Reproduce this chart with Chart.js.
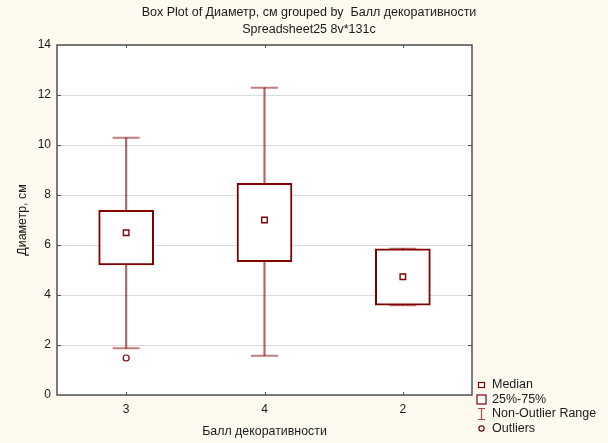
<!DOCTYPE html>
<html>
<head>
<meta charset="utf-8">
<script src="https://cdn.jsdelivr.net/npm/chart.js@4"></script>
<style>
  html, body { margin: 0; padding: 0; background: #fefaf0; }
  #wrap { width: 608px; height: 443px; }
</style>
</head>
<body>
<div id="wrap"><canvas id="c" width="608" height="443"></canvas></div>
<script>
// Box plot of diameter grouped by decorativeness score
const categories = ['3', '4', '2'];
const whiskerLow = [1.87, 1.57, 3.59];
const quartile1 = [5.2, 5.33, 3.59];
const medians = [6.49, 7.0, 4.73];
const quartile3 = [7.39, 8.47, 5.85];
const whiskerHigh = [10.29, 12.29, 5.85];
const outliers = [1.48, null, null];
const yTickMin = 0, yTickMax = 14, yTickStep = 2;
const legendLabels = ['Median', '25%-75%', 'Non-Outlier Range', 'Outliers'];

const DARK_RED = '#800000';
const SOFT_RED = 'rgba(128,0,0,0.5)';
const FONT = '"Liberation Sans", Arial, sans-serif';

const frame = {
  id: 'frame',
  beforeDraw(chart) {
    const { ctx, chartArea: a } = chart;
    ctx.save();
    ctx.fillStyle = '#fefaf0';
    ctx.fillRect(0, 0, chart.width, chart.height);
    ctx.fillStyle = '#ffffff';
    ctx.fillRect(a.left, a.top, a.right - a.left, a.bottom - a.top);
    ctx.restore();
  },
  afterDraw(chart) {
    const { ctx, chartArea: a, scales } = chart;
    ctx.save();
    // plot border
    ctx.strokeStyle = '#505050';
    ctx.lineWidth = 1.5;
    ctx.strokeRect(a.left, a.top, a.right - a.left, a.bottom - a.top);
    // short inward ticks
    ctx.lineWidth = 1;
    ctx.beginPath();
    categories.forEach((c, i) => {
      const x = Math.round(scales.x.getPixelForValue(i)) + 0.5;
      ctx.moveTo(x, a.bottom); ctx.lineTo(x, a.bottom - 3);
      ctx.moveTo(x, a.top); ctx.lineTo(x, a.top + 3);
    });
    for (let v = yTickMin + yTickStep; v < yTickMax; v += yTickStep) {
      const y = Math.round(scales.y.getPixelForValue(v)) + 0.5;
      ctx.moveTo(a.left, y); ctx.lineTo(a.left + 4, y);
      ctx.moveTo(a.right, y); ctx.lineTo(a.right - 4, y);
    }
    ctx.stroke();

    // legend
    const lx = 481.5, tx = 492;
    const rows = [385, 399.5, 414, 428.5];
    ctx.strokeStyle = DARK_RED;
    ctx.fillStyle = '#ffffff';
    ctx.lineWidth = 1.2;
    // median marker
    ctx.fillRect(lx - 3, rows[0] - 2.5, 6, 5);
    ctx.strokeRect(lx - 3, rows[0] - 2.5, 6, 5);
    // quartile box
    ctx.fillRect(lx - 4.5, rows[1] - 4.5, 9, 9);
    ctx.strokeRect(lx - 4.5, rows[1] - 4.5, 9, 9);
    // whisker range
    ctx.strokeStyle = '#a84a4a';
    ctx.beginPath();
    ctx.moveTo(lx, rows[2] - 5.5); ctx.lineTo(lx, rows[2] + 5.5);
    ctx.moveTo(lx - 3.5, rows[2] - 5.5); ctx.lineTo(lx + 3.5, rows[2] - 5.5);
    ctx.moveTo(lx - 3.5, rows[2] + 5.5); ctx.lineTo(lx + 3.5, rows[2] + 5.5);
    ctx.stroke();
    // outlier marker
    ctx.strokeStyle = DARK_RED;
    ctx.beginPath();
    ctx.arc(lx, rows[3], 2.6, 0, Math.PI * 2);
    ctx.fill();
    ctx.stroke();
    ctx.fillStyle = '#1a1a1a';
    ctx.font = '12.5px ' + FONT;
    ctx.textBaseline = 'middle';
    ctx.textAlign = 'left';
    legendLabels.forEach((t, i) => ctx.fillText(t, tx, rows[i]));
    ctx.restore();
  }
};

new Chart(document.getElementById('c'), {
  type: 'bar',
  data: {
    labels: categories,
    datasets: [
      {
        label: 'Median',
        type: 'line',
        data: medians,
        showLine: false,
        pointStyle: 'rect',
        pointRadius: 3.9,
        pointBorderWidth: 1.4,
        pointBorderColor: DARK_RED,
        pointBackgroundColor: '#ffffff',
        order: 0
      },
      {
        label: 'Outliers',
        type: 'line',
        data: outliers,
        showLine: false,
        pointStyle: 'circle',
        pointRadius: 3,
        pointBorderWidth: 1.2,
        pointBorderColor: DARK_RED,
        pointBackgroundColor: '#ffffff',
        order: 0
      },
      {
        label: '25%-75%',
        data: categories.map((c, i) => [quartile1[i], quartile3[i]]),
        backgroundColor: '#ffffff',
        borderColor: DARK_RED,
        borderWidth: 2,
        borderSkipped: false,
        barThickness: 55,
        grouped: false,
        order: 1
      },
      {
        label: 'Upper cap',
        type: 'line',
        data: whiskerHigh,
        showLine: false,
        pointStyle: 'line',
        pointRadius: 13.5,
        pointBorderWidth: 2,
        pointBorderColor: SOFT_RED,
        order: 2
      },
      {
        label: 'Lower cap',
        type: 'line',
        data: whiskerLow,
        showLine: false,
        pointStyle: 'line',
        pointRadius: 13.5,
        pointBorderWidth: 2,
        pointBorderColor: SOFT_RED,
        order: 2
      },
      {
        label: 'Non-Outlier Range',
        data: categories.map((c, i) => [whiskerLow[i], whiskerHigh[i]]),
        backgroundColor: 'rgba(128,0,0,0.6)',
        borderWidth: 0,
        barThickness: 1.5,
        grouped: false,
        order: 3
      }
    ]
  },
  options: {
    responsive: false,
    animation: false,
    events: [],
    layout: { padding: { left: 10, top: 0, right: 0, bottom: 0 } },
    plugins: {
      legend: { display: false },
      tooltip: { enabled: false },
      title: {
        display: true,
        text: ['Box Plot of Диаметр, см grouped by  Балл декоративности', 'Spreadsheet25 8v*131c'],
        color: '#1a1a1a',
        font: { family: FONT, size: 12.5, weight: 'normal', lineHeight: '17px' },
        padding: { top: 4.5, bottom: 6.5 }
      }
    },
    scales: {
      x: {
        type: 'category',
        offset: true,
        grid: { display: false, drawTicks: false },
        border: { display: false },
        ticks: { color: '#1a1a1a', padding: 7, font: { family: FONT, size: 12 } },
        title: {
          display: true,
          text: 'Балл декоративности',
          color: '#1a1a1a',
          font: { family: FONT, size: 12.4 },
          padding: { top: 0, bottom: 4 }
        },
        afterFit(s) { s.height = 48; }
      },
      y: {
        min: yTickMin,
        max: yTickMax,
        grid: { color: '#dcdcdc', lineWidth: 1, drawTicks: false },
        border: { display: false },
        ticks: { stepSize: yTickStep, color: '#1a1a1a', padding: 6, font: { family: FONT, size: 12 } },
        title: {
          display: true,
          text: 'Диаметр, см',
          color: '#1a1a1a',
          font: { family: FONT, size: 12.4 },
          padding: { top: 5, bottom: 0 }
        },
        afterFit(s) { s.width = 47; }
      },
      yR: {
        position: 'right',
        display: true,
        grid: { display: false },
        border: { display: false },
        ticks: { display: false },
        afterFit(s) { s.width = 136; }
      }
    }
  },
  plugins: [frame]
});
</script>
</body>
</html>
